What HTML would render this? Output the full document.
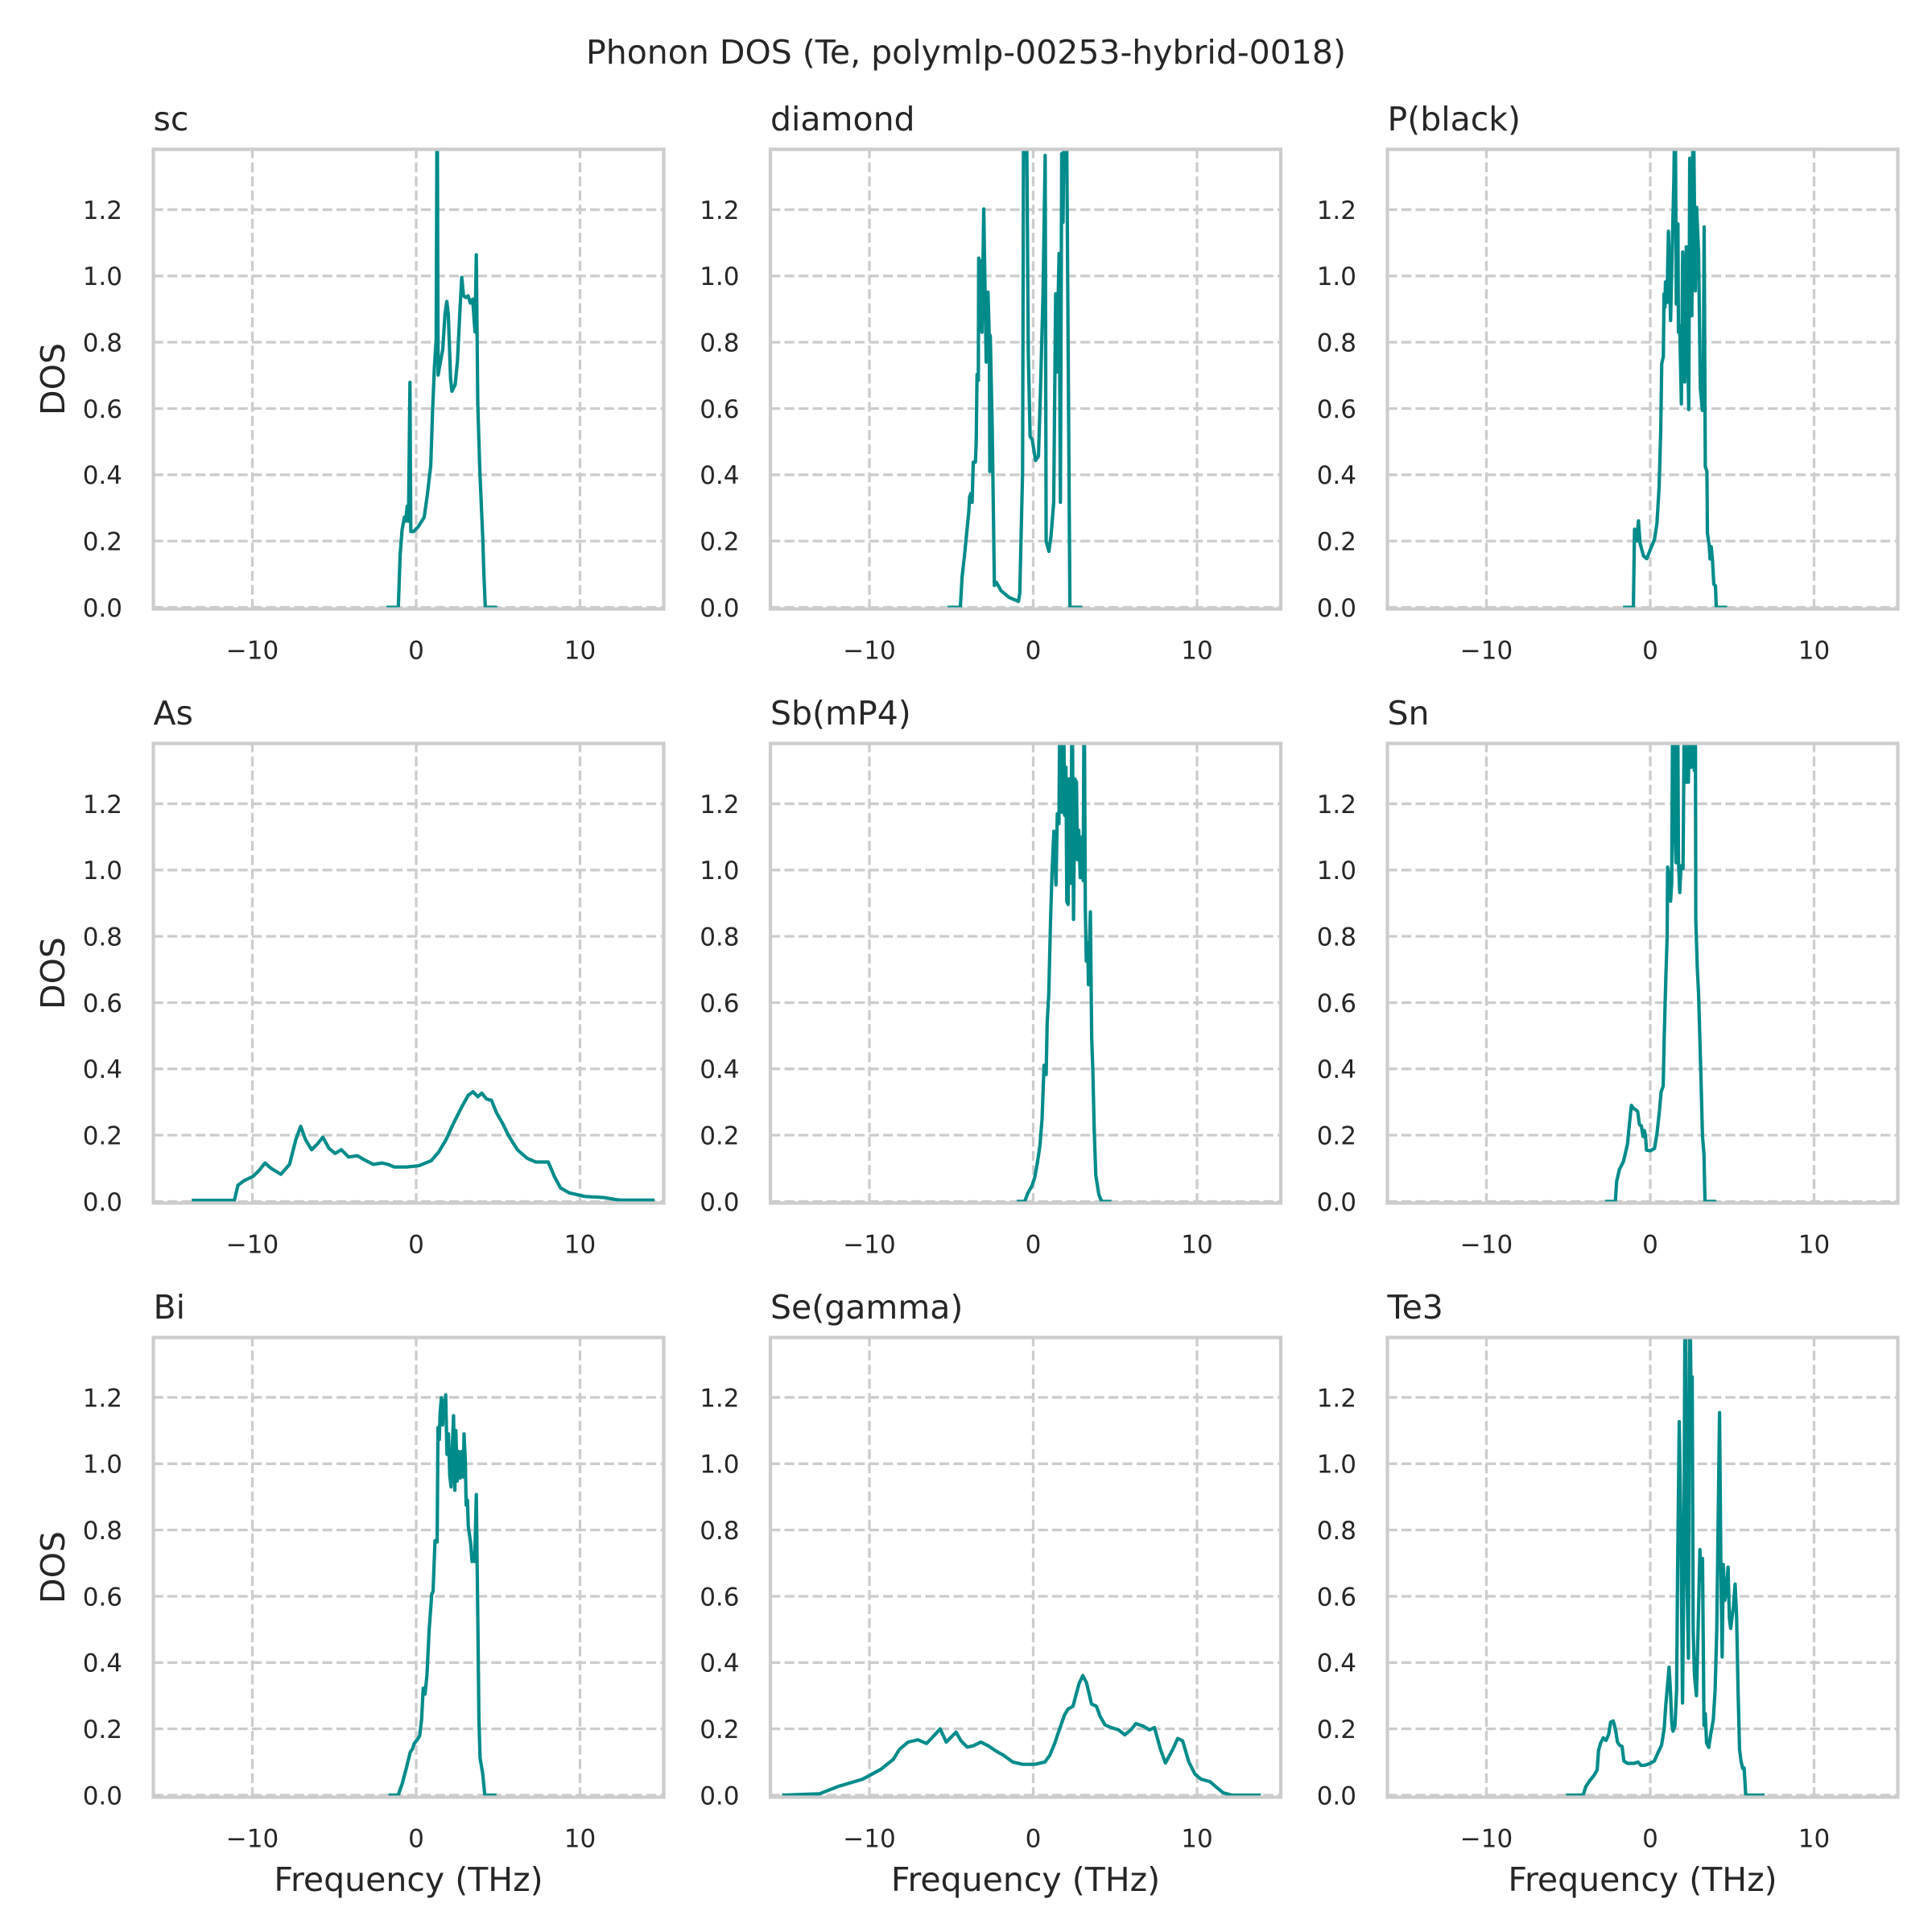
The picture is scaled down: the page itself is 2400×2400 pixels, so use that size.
<!DOCTYPE html>
<html><head><meta charset="utf-8"><style>
html,body{margin:0;padding:0;background:#fff}
svg{display:block}
.g{fill:none;stroke:#cccccc;stroke-width:3.3;stroke-dasharray:12.2 5.3}
.sp{fill:none;stroke:#cccccc;stroke-width:4.2}
.c{fill:none;stroke:#008b8b;stroke-width:4.2;stroke-linejoin:round;stroke-linecap:square}
text{font-family:"DejaVu Sans","Liberation Sans",sans-serif;fill:#262626}
.t{font-size:31px}
.yl{text-anchor:end}
.xl{text-anchor:middle}
.h{font-size:41px}
</style></head><body>
<svg width="2400" height="2400" viewBox="0 0 2400 2400" xmlns="http://www.w3.org/2000/svg">
<defs>
<clipPath id="k0"><rect x="190.5" y="185.5" width="634" height="571"/></clipPath>
<clipPath id="k1"><rect x="957" y="185.5" width="634" height="571"/></clipPath>
<clipPath id="k2"><rect x="1723.5" y="185.5" width="634" height="571"/></clipPath>
<clipPath id="k3"><rect x="190.5" y="923.5" width="634" height="571"/></clipPath>
<clipPath id="k4"><rect x="957" y="923.5" width="634" height="571"/></clipPath>
<clipPath id="k5"><rect x="1723.5" y="923.5" width="634" height="571"/></clipPath>
<clipPath id="k6"><rect x="190.5" y="1661.5" width="634" height="571"/></clipPath>
<clipPath id="k7"><rect x="957" y="1661.5" width="634" height="571"/></clipPath>
<clipPath id="k8"><rect x="1723.5" y="1661.5" width="634" height="571"/></clipPath>
</defs>
<rect width="2400" height="2400" fill="#fff"/>

<text class="h" x="1200" y="79" text-anchor="middle">Phonon DOS (Te, polymlp-00253-hybrid-0018)</text>

<!-- grids -->
<path class="g" d="M190.5 754.5H824.5M190.5 672.16H824.5M190.5 589.82H824.5M190.5 507.48H824.5M190.5 425.14H824.5M190.5 342.8H824.5M190.5 260.46H824.5M313.5 756.5V185.5M517 756.5V185.5M720.5 756.5V185.5"/>
<path class="g" d="M957 754.5H1591M957 672.16H1591M957 589.82H1591M957 507.48H1591M957 425.14H1591M957 342.8H1591M957 260.46H1591M1080 756.5V185.5M1283.5 756.5V185.5M1487 756.5V185.5"/>
<path class="g" d="M1723.5 754.5H2357.5M1723.5 672.16H2357.5M1723.5 589.82H2357.5M1723.5 507.48H2357.5M1723.5 425.14H2357.5M1723.5 342.8H2357.5M1723.5 260.46H2357.5M1846.5 756.5V185.5M2050 756.5V185.5M2253.5 756.5V185.5"/>
<path class="g" d="M190.5 1492.5H824.5M190.5 1410.16H824.5M190.5 1327.82H824.5M190.5 1245.48H824.5M190.5 1163.14H824.5M190.5 1080.8H824.5M190.5 998.46H824.5M313.5 1494.5V923.5M517 1494.5V923.5M720.5 1494.5V923.5"/>
<path class="g" d="M957 1492.5H1591M957 1410.16H1591M957 1327.82H1591M957 1245.48H1591M957 1163.14H1591M957 1080.8H1591M957 998.46H1591M1080 1494.5V923.5M1283.5 1494.5V923.5M1487 1494.5V923.5"/>
<path class="g" d="M1723.5 1492.5H2357.5M1723.5 1410.16H2357.5M1723.5 1327.82H2357.5M1723.5 1245.48H2357.5M1723.5 1163.14H2357.5M1723.5 1080.8H2357.5M1723.5 998.46H2357.5M1846.5 1494.5V923.5M2050 1494.5V923.5M2253.5 1494.5V923.5"/>
<path class="g" d="M190.5 2230H824.5M190.5 2147.66H824.5M190.5 2065.32H824.5M190.5 1982.98H824.5M190.5 1900.64H824.5M190.5 1818.3H824.5M190.5 1735.96H824.5M313.5 2232.5V1661.5M517 2232.5V1661.5M720.5 2232.5V1661.5"/>
<path class="g" d="M957 2230H1591M957 2147.66H1591M957 2065.32H1591M957 1982.98H1591M957 1900.64H1591M957 1818.3H1591M957 1735.96H1591M1080 2232.5V1661.5M1283.5 2232.5V1661.5M1487 2232.5V1661.5"/>
<path class="g" d="M1723.5 2230H2357.5M1723.5 2147.66H2357.5M1723.5 2065.32H2357.5M1723.5 1982.98H2357.5M1723.5 1900.64H2357.5M1723.5 1818.3H2357.5M1723.5 1735.96H2357.5M1846.5 2232.5V1661.5M2050 2232.5V1661.5M2253.5 2232.5V1661.5"/>

<!-- curves -->
<g clip-path="url(#k0)"><g transform="translate(517 754.5) scale(20.35 -411.7)"><polyline class="c" vector-effect="non-scaling-stroke" points="-1.71,0 -1.09,0 -0.98,0.158 -0.86,0.234 -0.72,0.272 -0.64,0.26 -0.55,0.305 -0.47,0.26 -0.38,0.679 -0.33,0.229 -0.16,0.229 0.12,0.243 0.49,0.272 0.69,0.343 0.89,0.429 1.0,0.592 1.11,0.722 1.22,0.809 1.28,1.6 1.34,0.701 1.45,0.733 1.62,0.777 1.76,0.885 1.87,0.923 1.96,0.885 2.10,0.69 2.18,0.652 2.38,0.672 2.52,0.744 2.66,0.885 2.78,0.996 2.89,0.94 3.03,0.935 3.17,0.94 3.31,0.918 3.45,0.93 3.59,0.831 3.67,1.064 3.76,0.614 3.88,0.419 4.07,0.202 4.13,0.104 4.22,0 4.84,0"/></g></g>

<g clip-path="url(#k1)"><g transform="translate(1283.5 754.5) scale(20.35 -411.7)"><polyline class="c" vector-effect="non-scaling-stroke" points="-5.12,0 -4.45,0 -4.34,0.0925 -4.18,0.164 -3.93,0.29 -3.88,0.335 -3.80,0.344 -3.73,0.317 -3.66,0.438 -3.53,0.438 -3.48,0.497 -3.43,0.703 -3.35,0.685 -3.33,1.054 -3.23,1.04 -3.13,0.83 -3.02,1.202 -2.87,0.74 -2.76,0.951 -2.68,0.811 -2.65,0.41 -2.62,0.82 -2.50,0.533 -2.37,0.066 -2.24,0.075 -1.96,0.05 -1.47,0.03 -0.90,0.018 -0.82,0.043 -0.65,0.407 -0.57,1.8 -0.45,1.8 -0.30,0.766 -0.19,0.515 -0.06,0.507 0.14,0.443 0.32,0.456 0.43,0.632 0.60,0.946 0.73,1.364 0.79,0.2 0.96,0.169 1.09,0.217 1.25,0.317 1.37,0.946 1.43,0.71 1.58,1.068 1.66,0.317 1.74,1.369 1.82,1.162 1.91,1.6 2.02,1.6 2.24,0 2.9,0"/></g></g>

<g clip-path="url(#k2)"><g transform="translate(2050 754.5) scale(20.35 -411.7)"><polyline class="c" vector-effect="non-scaling-stroke" points="-1.56,0 -1.03,0 -0.96,0.236 -0.86,0.232 -0.82,0.2 -0.72,0.261 -0.62,0.193 -0.41,0.155 -0.21,0.147 0,0.174 0.26,0.205 0.41,0.254 0.54,0.362 0.64,0.533 0.70,0.735 0.80,0.757 0.84,0.946 0.90,0.906 0.93,0.982 1.02,0.92 1.11,1.135 1.24,0.865 1.36,1.12 1.44,1.288 1.52,1.6 1.59,0.915 1.69,1.157 1.72,0.83 1.80,0.85 1.90,0.614 1.98,1.072 2.10,0.68 2.20,1.088 2.26,0.85 2.35,0.597 2.41,1.355 2.54,0.88 2.62,1.6 2.75,0.955 2.83,1.207 2.95,1.07 3.06,0.66 3.18,0.594 3.23,0.6 3.29,1.148 3.36,0.425 3.46,0.41 3.49,0.224 3.6,0.187 3.65,0.146 3.72,0.183 3.80,0.142 3.88,0.07 3.98,0.065 4.03,0 4.59,0"/></g></g>

<g clip-path="url(#k3)"><g transform="translate(517 1492.5) scale(20.35 -411.7)"><polyline class="c" vector-effect="non-scaling-stroke" points="-13.6,0.003 -11.1,0.003 -10.88,0.049 -10.5,0.063 -9.98,0.075 -9.6,0.093 -9.23,0.116 -8.86,0.1 -8.26,0.082 -7.73,0.112 -7.35,0.186 -7.05,0.227 -6.75,0.186 -6.38,0.156 -6.0,0.175 -5.7,0.194 -5.32,0.16 -4.95,0.145 -4.57,0.156 -4.12,0.134 -3.59,0.138 -3.22,0.127 -2.62,0.112 -2.09,0.116 -1.72,0.112 -1.34,0.104 -0.59,0.104 0.17,0.108 0.92,0.123 1.37,0.149 1.82,0.186 2.27,0.235 2.80,0.287 3.17,0.32 3.47,0.331 3.77,0.316 4.0,0.327 4.30,0.309 4.60,0.305 4.9,0.268 5.28,0.235 5.66,0.197 6.18,0.156 6.78,0.13 7.31,0.119 8.06,0.119 8.44,0.075 8.81,0.041 9.34,0.026 10.31,0.015 11.44,0.012 12.42,0.004 14.45,0.004"/></g></g>

<g clip-path="url(#k4)"><g transform="translate(1283.5 1492.5) scale(20.35 -411.7)"><polyline class="c" vector-effect="non-scaling-stroke" points="-0.9,0 -0.52,0 -0.33,0.025 -0.08,0.047 0.08,0.07 0.25,0.115 0.41,0.169 0.54,0.249 0.66,0.411 0.79,0.383 0.85,0.537 0.95,0.627 1.06,0.851 1.15,0.995 1.26,1.117 1.39,0.955 1.47,1.17 1.57,1.14 1.64,1.6 1.77,1.174 1.83,1.6 1.92,1.165 2.0,1.31 2.05,0.905 2.13,0.896 2.18,1.275 2.29,0.96 2.38,1.6 2.46,0.851 2.54,1.275 2.64,1.265 2.70,1.031 2.78,1.12 2.87,0.977 2.98,1.10 3.05,0.968 3.11,1.6 3.18,0.887 3.24,0.725 3.33,0.78 3.37,0.654 3.49,0.874 3.57,0.492 3.64,0.393 3.72,0.222 3.82,0.079 4.01,0.02 4.18,0 4.67,0"/></g></g>

<g clip-path="url(#k5)"><g transform="translate(2050 1492.5) scale(20.35 -411.7)"><polyline class="c" vector-effect="non-scaling-stroke" points="-2.65,0 -2.13,0 -2.05,0.061 -1.88,0.097 -1.64,0.12 -1.39,0.173 -1.26,0.24 -1.15,0.29 -1.03,0.281 -0.9,0.277 -0.77,0.272 -0.66,0.232 -0.54,0.228 -0.44,0.196 -0.36,0.214 -0.29,0.196 -0.23,0.155 0,0.153 0.26,0.16 0.41,0.205 0.57,0.277 0.66,0.33 0.79,0.348 0.85,0.492 0.95,0.672 1.03,0.797 1.06,1.009 1.18,0.969 1.24,0.906 1.31,0.96 1.38,1.6 1.47,1.174 1.57,1.022 1.67,1.6 1.72,1.031 1.80,0.932 1.88,1.013 2.0,1.004 2.10,1.6 2.21,1.265 2.33,1.265 2.39,1.6 2.49,1.31 2.59,1.6 2.69,1.3 2.75,1.6 2.78,0.851 2.87,0.708 2.95,0.627 3.08,0.402 3.19,0.196 3.28,0.142 3.34,0 3.93,0"/></g></g>

<g clip-path="url(#k6)"><g transform="translate(517 2230) scale(20.35 -411.7)"><polyline class="c" vector-effect="non-scaling-stroke" points="-1.59,0 -1.10,0 -0.85,0.035 -0.61,0.08 -0.36,0.13 -0.23,0.139 -0.11,0.157 0.05,0.166 0.21,0.179 0.33,0.228 0.43,0.323 0.54,0.305 0.66,0.363 0.79,0.498 0.95,0.606 1.03,0.615 1.15,0.768 1.28,0.764 1.33,1.109 1.41,1.073 1.46,1.154 1.54,1.199 1.61,1.117 1.67,1.19 1.74,1.15 1.80,1.208 1.88,1.028 1.97,1.09 2.05,0.965 2.13,0.93 2.19,1.028 2.28,1.145 2.36,0.92 2.42,1.1 2.51,0.948 2.59,1.037 2.69,0.957 2.78,1.037 2.88,0.96 2.92,1.09 3.0,1.01 3.05,0.875 3.13,0.89 3.18,0.812 3.33,0.759 3.41,0.705 3.51,0.73 3.57,0.705 3.67,0.907 3.77,0.498 3.83,0.228 3.9,0.112 4.06,0.065 4.19,0 4.80,0"/></g></g>

<g clip-path="url(#k7)"><g transform="translate(1283.5 2230) scale(20.35 -411.7)"><polyline class="c" vector-effect="non-scaling-stroke" points="-15.23,0 -13.05,0.004 -11.92,0.026 -10.42,0.048 -9.30,0.078 -8.54,0.108 -8.17,0.138 -7.64,0.16 -7.04,0.167 -6.51,0.156 -6.14,0.175 -5.68,0.2 -5.31,0.16 -5.01,0.175 -4.71,0.19 -4.41,0.164 -4.03,0.145 -3.65,0.149 -3.20,0.16 -2.75,0.149 -2.30,0.134 -1.77,0.119 -1.25,0.1 -0.65,0.093 0.11,0.093 0.71,0.1 1.0,0.119 1.31,0.156 1.61,0.2 1.91,0.242 2.13,0.26 2.43,0.268 2.58,0.297 2.81,0.338 3.03,0.361 3.26,0.338 3.56,0.275 3.86,0.268 4.08,0.238 4.38,0.212 4.76,0.204 5.21,0.197 5.59,0.182 5.96,0.197 6.27,0.216 6.72,0.208 7.1,0.197 7.4,0.204 7.77,0.138 8.07,0.097 8.52,0.138 8.82,0.171 9.12,0.164 9.5,0.1 9.88,0.063 10.25,0.048 10.78,0.041 11.23,0.022 11.6,0.007 12.13,0 13.79,0"/></g></g>

<g clip-path="url(#k8)"><g transform="translate(2050 2230) scale(20.35 -411.7)"><polyline class="c" vector-effect="non-scaling-stroke" points="-5.04,0 -4.10,0 -3.93,0.026 -3.69,0.044 -3.44,0.059 -3.24,0.076 -3.16,0.134 -3.03,0.157 -2.87,0.173 -2.70,0.165 -2.54,0.183 -2.42,0.22 -2.26,0.224 -2.13,0.2 -2.0,0.16 -1.88,0.151 -1.72,0.147 -1.61,0.103 -1.39,0.096 -0.98,0.096 -0.74,0.1 -0.57,0.09 -0.33,0.09 0,0.096 0.25,0.103 0.49,0.13 0.69,0.151 0.85,0.2 0.95,0.273 1.03,0.318 1.15,0.386 1.23,0.318 1.31,0.22 1.39,0.193 1.51,0.21 1.61,0.318 1.67,0.678 1.77,1.127 1.88,0.77 1.97,0.278 2.05,0.678 2.13,1.6 2.23,0.7 2.33,0.413 2.41,1.6 2.49,1.2 2.56,1.262 2.62,0.498 2.70,0.363 2.82,0.3 2.92,0.498 3.03,0.741 3.11,0.65 3.19,0.714 3.28,0.21 3.36,0.246 3.44,0.157 3.57,0.144 3.69,0.183 3.85,0.228 3.96,0.318 4.06,0.498 4.13,0.768 4.23,1.154 4.31,0.7 4.39,0.417 4.46,0.696 4.55,0.588 4.65,0.615 4.75,0.688 4.83,0.533 4.91,0.503 5.08,0.57 5.18,0.637 5.27,0.54 5.36,0.318 5.45,0.139 5.54,0.103 5.65,0.08 5.73,0.082 5.83,0 6.88,0"/></g></g>

<!-- spines -->
<rect class="sp" x="190.5" y="185.5" width="634" height="571"/>
<rect class="sp" x="957" y="185.5" width="634" height="571"/>
<rect class="sp" x="1723.5" y="185.5" width="634" height="571"/>
<rect class="sp" x="190.5" y="923.5" width="634" height="571"/>
<rect class="sp" x="957" y="923.5" width="634" height="571"/>
<rect class="sp" x="1723.5" y="923.5" width="634" height="571"/>
<rect class="sp" x="190.5" y="1661.5" width="634" height="571"/>
<rect class="sp" x="957" y="1661.5" width="634" height="571"/>
<rect class="sp" x="1723.5" y="1661.5" width="634" height="571"/>

<!-- panel titles -->
<text class="h" x="190.5" y="162">sc</text>
<text class="h" x="957" y="162">diamond</text>
<text class="h" x="1723.5" y="162">P(black)</text>
<text class="h" x="190.5" y="900">As</text>
<text class="h" x="957" y="900">Sb(mP4)</text>
<text class="h" x="1723.5" y="900">Sn</text>
<text class="h" x="190.5" y="1638">Bi</text>
<text class="h" x="957" y="1638">Se(gamma)</text>
<text class="h" x="1723.5" y="1638">Te3</text>

<!-- y tick labels -->
<g class="t yl">
<text x="152" y="765.8">0.0</text><text x="152" y="683.46">0.2</text><text x="152" y="601.12">0.4</text><text x="152" y="518.78">0.6</text><text x="152" y="436.44">0.8</text><text x="152" y="354.1">1.0</text><text x="152" y="271.76">1.2</text>
<text x="918.5" y="765.8">0.0</text><text x="918.5" y="683.46">0.2</text><text x="918.5" y="601.12">0.4</text><text x="918.5" y="518.78">0.6</text><text x="918.5" y="436.44">0.8</text><text x="918.5" y="354.1">1.0</text><text x="918.5" y="271.76">1.2</text>
<text x="1685" y="765.8">0.0</text><text x="1685" y="683.46">0.2</text><text x="1685" y="601.12">0.4</text><text x="1685" y="518.78">0.6</text><text x="1685" y="436.44">0.8</text><text x="1685" y="354.1">1.0</text><text x="1685" y="271.76">1.2</text>
<text x="152" y="1503.8">0.0</text><text x="152" y="1421.46">0.2</text><text x="152" y="1339.12">0.4</text><text x="152" y="1256.78">0.6</text><text x="152" y="1174.44">0.8</text><text x="152" y="1092.1">1.0</text><text x="152" y="1009.76">1.2</text>
<text x="918.5" y="1503.8">0.0</text><text x="918.5" y="1421.46">0.2</text><text x="918.5" y="1339.12">0.4</text><text x="918.5" y="1256.78">0.6</text><text x="918.5" y="1174.44">0.8</text><text x="918.5" y="1092.1">1.0</text><text x="918.5" y="1009.76">1.2</text>
<text x="1685" y="1503.8">0.0</text><text x="1685" y="1421.46">0.2</text><text x="1685" y="1339.12">0.4</text><text x="1685" y="1256.78">0.6</text><text x="1685" y="1174.44">0.8</text><text x="1685" y="1092.1">1.0</text><text x="1685" y="1009.76">1.2</text>
<text x="152" y="2241.3">0.0</text><text x="152" y="2158.96">0.2</text><text x="152" y="2076.62">0.4</text><text x="152" y="1994.28">0.6</text><text x="152" y="1911.94">0.8</text><text x="152" y="1829.6">1.0</text><text x="152" y="1747.26">1.2</text>
<text x="918.5" y="2241.3">0.0</text><text x="918.5" y="2158.96">0.2</text><text x="918.5" y="2076.62">0.4</text><text x="918.5" y="1994.28">0.6</text><text x="918.5" y="1911.94">0.8</text><text x="918.5" y="1829.6">1.0</text><text x="918.5" y="1747.26">1.2</text>
<text x="1685" y="2241.3">0.0</text><text x="1685" y="2158.96">0.2</text><text x="1685" y="2076.62">0.4</text><text x="1685" y="1994.28">0.6</text><text x="1685" y="1911.94">0.8</text><text x="1685" y="1829.6">1.0</text><text x="1685" y="1747.26">1.2</text>
</g>

<!-- x tick labels -->
<g class="t xl">
<text x="313.5" y="818.5">&#8722;10</text><text x="517" y="818.5">0</text><text x="720.5" y="818.5">10</text>
<text x="1080" y="818.5">&#8722;10</text><text x="1283.5" y="818.5">0</text><text x="1487" y="818.5">10</text>
<text x="1846.5" y="818.5">&#8722;10</text><text x="2050" y="818.5">0</text><text x="2253.5" y="818.5">10</text>
<text x="313.5" y="1556.5">&#8722;10</text><text x="517" y="1556.5">0</text><text x="720.5" y="1556.5">10</text>
<text x="1080" y="1556.5">&#8722;10</text><text x="1283.5" y="1556.5">0</text><text x="1487" y="1556.5">10</text>
<text x="1846.5" y="1556.5">&#8722;10</text><text x="2050" y="1556.5">0</text><text x="2253.5" y="1556.5">10</text>
<text x="313.5" y="2294.5">&#8722;10</text><text x="517" y="2294.5">0</text><text x="720.5" y="2294.5">10</text>
<text x="1080" y="2294.5">&#8722;10</text><text x="1283.5" y="2294.5">0</text><text x="1487" y="2294.5">10</text>
<text x="1846.5" y="2294.5">&#8722;10</text><text x="2050" y="2294.5">0</text><text x="2253.5" y="2294.5">10</text>
</g>

<!-- axis labels -->
<text class="h" text-anchor="middle" transform="translate(80 471) rotate(-90)">DOS</text>
<text class="h" text-anchor="middle" transform="translate(80 1209) rotate(-90)">DOS</text>
<text class="h" text-anchor="middle" transform="translate(80 1947) rotate(-90)">DOS</text>
<text class="h" text-anchor="middle" x="507.5" y="2349">Frequency (THz)</text>
<text class="h" text-anchor="middle" x="1274" y="2349">Frequency (THz)</text>
<text class="h" text-anchor="middle" x="2040.5" y="2349">Frequency (THz)</text>
</svg>
</body></html>
